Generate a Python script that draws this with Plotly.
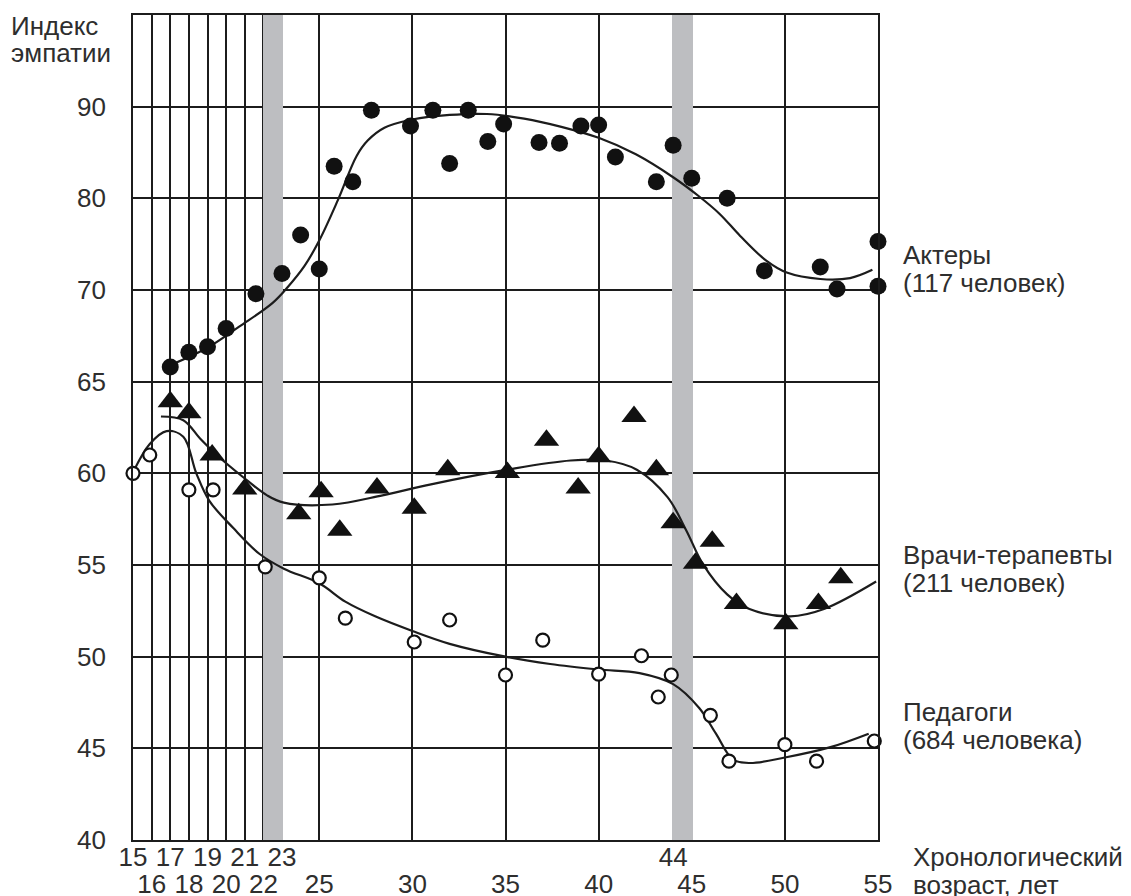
import plotly.graph_objects as go

# ---------------- data ----------------
# Актеры (filled circles)
actors_age = [17, 18, 19, 20, 21.6, 23, 24, 25, 25.8, 26.8, 27.8, 29.9, 31.1, 32.0, 33.0,
              34.05, 34.9, 36.8, 37.9, 39.05, 40.0, 40.9, 43.1, 44.0, 45.0, 46.9, 48.9,
              51.9, 52.8, 55, 55]
actors_val = [65.8, 66.6, 66.9, 67.9, 69.8, 71.8, 76.0, 72.3, 83.5, 81.8, 89.6, 87.9, 89.6,
              83.8, 89.6, 86.2, 88.1, 86.1, 86.0, 87.9, 88.0, 84.5, 81.8, 85.8, 82.2, 80.0,
              72.1, 72.5, 70.1, 75.3, 70.4]
actors_curve_age = [17, 19, 20.7, 22.5, 23.3, 24.2, 25, 26, 27, 27.6, 28.5, 30, 32, 34, 36,
                    38, 40, 42, 44, 45.4, 46.5, 47.6, 49, 50.1, 51.9, 53.5, 54.7]
actors_curve_val = [65.9, 66.85, 68.0, 69.3, 70.3, 72.6, 75.4, 79.8, 84.6, 86.3, 87.7, 88.6,
                    89.1, 89.2, 88.7, 87.8, 86.6, 84.8, 82.3, 80.2, 78.3, 75.9, 73.2, 71.9,
                    71.2, 71.3, 72.2]

# Врачи-терапевты (triangles)
doctors_age = [17, 18, 19.25, 21.0, 23.9, 25.1, 26.1, 28.1, 30.1, 31.9, 35.1, 37.2, 38.9,
               40.0, 41.9, 43.1, 44.0, 45.2, 46.1, 47.4, 50.05, 51.8, 53.0]
doctors_val = [63.9, 63.3, 61.0, 59.15, 57.8, 59.0, 56.9, 59.2, 58.1, 60.2, 60.05, 61.8,
               59.2, 60.9, 63.1, 60.2, 57.3, 55.1, 56.3, 52.9, 51.8, 52.9, 54.3]
doctors_curve_age = [16.5, 17.7, 18.6, 19.5, 20.9, 22.2, 23.1, 25.7, 28.4, 31, 35.1, 38.5,
                     40.4, 42.05, 43.7, 44.7, 45.6, 46.9, 48.1, 50.3, 52.1, 54.9]
doctors_curve_val = [63.1, 62.9, 61.9, 61.0, 59.8, 58.8, 58.4, 58.3, 58.8, 59.4, 60.2, 60.7,
                     60.7, 60.2, 58.7, 56.9, 55.05, 53.4, 52.6, 52.2, 52.6, 54.1]

# Педагоги (open circles)
teachers_age = [15, 15.9, 18, 19.3, 22.1, 25.0, 26.4, 30.1, 32.0, 35.0, 37.0, 40.0, 42.3,
                43.2, 43.9, 46.0, 47.0, 50.0, 51.7, 54.8]
teachers_val = [60.0, 61.0, 59.1, 59.1, 54.9, 54.3, 52.1, 50.8, 52.0, 49.0, 50.9, 49.05,
                50.05, 47.8, 49.0, 46.8, 44.3, 45.2, 44.3, 45.4]
teachers_curve_age = [15, 15.9, 16.8, 17.7, 18.4, 19.1, 20.4, 21.8, 23.1, 25.0, 26.4, 28,
                      30, 32, 35, 37.4, 40, 42.2, 44, 45.4, 46.3, 47.2, 48.1, 50, 52.4, 54.5]
teachers_curve_val = [60.05, 61.6, 62.3, 62.0, 60.0, 58.5, 57.0, 55.6, 54.8, 54.0, 53.0,
                      52.2, 51.4, 50.7, 50.0, 49.6, 49.3, 49.1, 48.5, 47.2, 45.8, 44.4, 44.2,
                      44.5, 45.05, 45.8]

# axis ticks
y_ticks = [40, 45, 50, 55, 60, 65, 70, 80, 90]
x_ticks_upper = [15, 17, 19, 21, 23, 44]
x_ticks_lower = [16, 18, 20, 22, 25, 30, 35, 40, 45, 50, 55]
bands = [(22, 23), (44, 45)]

# labels
series_labels = [("Актеры", "(117 человек)"),
                 ("Врачи-терапевты", "(211 человек)"),
                 ("Педагоги", "(684 человека)")]
y_title = ("Индекс", "эмпатии")
x_title = ("Хронологический", "возраст, лет")


# piecewise y scale: 5-unit steps up to 70, 10-unit steps above
def ys(v):
    return v if v <= 70 else 70 + (v - 70) / 2


def ymap(vals):
    return [ys(v) for v in vals]


Y_MIN, Y_MAX = 40, ys(100)
INK = "#1c1c1c"
TXT = "#2e2e2e"
FONT = "Liberation Sans, Arial, Helvetica, sans-serif"
FS = 26

fig = go.Figure()

# grey bands (drawn as bars so they sit above the grid but below the data)
fig.add_trace(go.Bar(x=[(a + b) / 2 for a, b in bands],
                     y=[Y_MAX - Y_MIN for _ in bands], base=Y_MIN,
                     width=[(b - a) + 0.09 for a, b in bands],
                     marker=dict(color="#bdbec1", line=dict(width=0)),
                     hoverinfo="skip", showlegend=False))

for ca, cv in [(actors_curve_age, actors_curve_val),
               (doctors_curve_age, doctors_curve_val),
               (teachers_curve_age, teachers_curve_val)]:
    fig.add_trace(go.Scatter(x=ca, y=ymap(cv), mode="lines",
                             line=dict(color=INK, width=2.2, shape="spline", smoothing=1.0),
                             hoverinfo="skip", showlegend=False))

fig.add_trace(go.Scatter(x=actors_age, y=ymap(actors_val), mode="markers",
                         marker=dict(symbol="circle", size=17, color="#111111",
                                     line=dict(width=0)),
                         cliponaxis=False, showlegend=False))
fig.add_trace(go.Scatter(x=doctors_age, y=ymap(doctors_val), mode="markers",
                         marker=dict(symbol="triangle-up", size=22, color="#111111",
                                     line=dict(width=0)),
                         cliponaxis=False, showlegend=False))
fig.add_trace(go.Scatter(x=teachers_age, y=ymap(teachers_val), mode="markers",
                         marker=dict(symbol="circle", size=13, color="white",
                                     line=dict(width=2.2, color="#111111")),
                         cliponaxis=False, showlegend=False))

# page has an 8px body margin: lay out in page pixels, convert to figure pixels
OFF = 8
PAGE_W, PAGE_H = 1131, 896
W, H = PAGE_W - OFF, PAGE_H - OFF
plot_left, plot_right, plot_top, plot_bottom = 133, 878, 15, 840
L, T = plot_left - OFF, plot_top - OFF
R, B = W - (plot_right - OFF), H - (plot_bottom - OFF)
pw, ph = plot_right - plot_left, plot_bottom - plot_top


def px(xp):
    return (xp - plot_left) / pw


def py(yp):
    return (plot_bottom - yp) / ph


ann = []
label_y = [(255, 283), (555, 583), (712, 740)]
for (a, b), (y1, y2) in zip(series_labels, label_y):
    ann.append(dict(text=a, x=px(901), y=py(y1)))
    ann.append(dict(text=b, x=px(901), y=py(y2)))
ann.append(dict(text=x_title[0], x=px(911), y=py(857)))
ann.append(dict(text=x_title[1], x=px(911), y=py(885)))
ann.append(dict(text=y_title[0], x=px(9), y=py(26)))
ann.append(dict(text=y_title[1], x=px(9), y=py(53)))
annotations = [dict(a, xref="paper", yref="paper", xanchor="left", yanchor="middle",
                    showarrow=False, font=dict(family=FONT, size=FS, color=TXT))
               for a in ann]

axis_common = dict(showgrid=True, gridcolor=INK, gridwidth=1.5, zeroline=False,
                   ticks="", ticklen=0, automargin=False,
                   tickfont=dict(family=FONT, size=FS, color=TXT))

fig.update_layout(
    width=W, height=H, autosize=False,
    margin=dict(l=L, r=R, t=T, b=B, pad=0),
    paper_bgcolor="white", plot_bgcolor="white",
    showlegend=False, bargap=0,
    xaxis=dict(range=[15, 55], tickmode="array", tickvals=x_ticks_lower,
               ticktext=[str(v) for v in x_ticks_lower],
               showline=True, mirror=True, linecolor=INK, linewidth=1.6,
               ticklabelstandoff=20, **axis_common),
    xaxis2=dict(range=[15, 55], overlaying="x", anchor="y", side="bottom",
                tickmode="array", tickvals=x_ticks_upper,
                ticktext=[str(v) for v in x_ticks_upper],
                showline=False, ticklabelstandoff=-1, **axis_common),
    yaxis=dict(range=[Y_MIN, Y_MAX], tickmode="array", tickvals=ymap(y_ticks),
               ticktext=[str(v) for v in y_ticks],
               showline=True, mirror=True, linecolor=INK, linewidth=1.6,
               ticklabelstandoff=20, **axis_common),
    annotations=annotations,
)

# invisible trace to activate the second (upper-row) x tick axis
fig.add_trace(go.Scatter(x=[15, 55], y=[Y_MIN, Y_MIN], xaxis="x2", yaxis="y", mode="markers",
                         marker=dict(opacity=0), hoverinfo="skip", showlegend=False))

fig.write_html("out.html")
